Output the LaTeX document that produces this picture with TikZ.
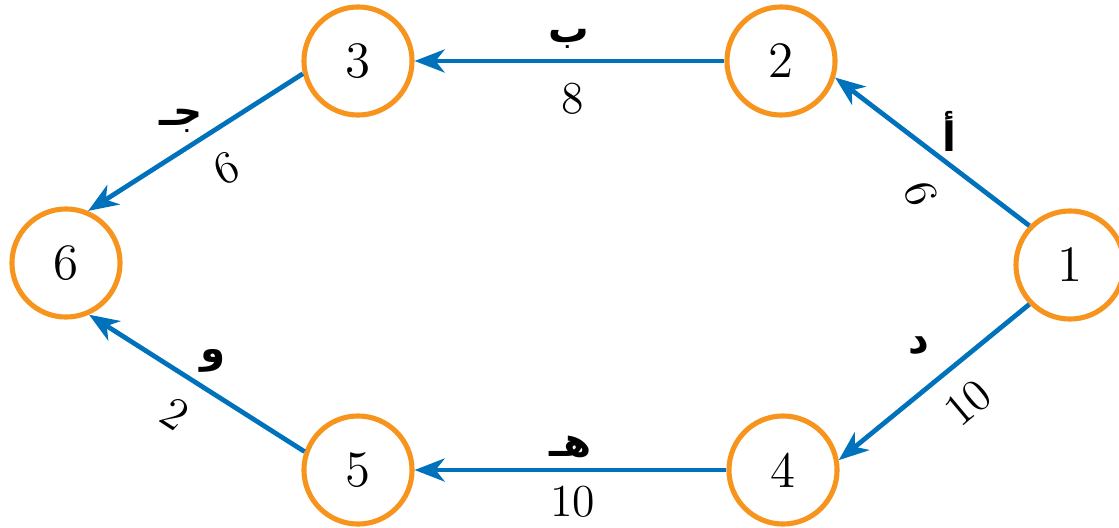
\documentclass[tikz,border=0pt]{standalone}
\usepackage{fontspec}
\usepackage{xcolor}
\usepackage{tikz}
\usetikzlibrary{arrows.meta}
\newfontfamily\arabicfont[Script=Arabic]{DejaVu Sans}
\TeXXeTstate=1
\definecolor{nodeorange}{HTML}{F7941E}
\definecolor{edgeblue}{HTML}{0072BC}

\begin{document}
\begin{tikzpicture}[x=0.01cm, y=0.01cm,
  stn/.style={circle, draw=nodeorange, line width=1.45pt, minimum size=1.08cm, inner sep=0pt, font=\fontsize{14.5}{16}\selectfont},
  arr/.style={draw=edgeblue, line width=1.35pt, -{Stealth[length=3mm, width=2.3mm, inset=0.9mm]}},
  num/.style={font=\fontsize{13}{15}\selectfont, inner sep=0pt},
  ltr/.style={font=\arabicfont\bfseries\fontsize{11.5}{13}\selectfont, inner sep=0pt}]
\useasboundingbox (0,0) rectangle (1119,527);
\node[stn] (n1) at (1070,262) {1};
\node[stn] (n2) at (781,466) {2};
\node[stn] (n3) at (358,466) {3};
\node[stn] (n4) at (783,57) {4};
\node[stn] (n5) at (358,57) {5};
\node[stn] (n6) at (66,264) {6};
\draw[arr] (n1.136) -- node[ltr, midway, xshift=1.7mm, yshift=2.05mm] {\beginR أ\endR}
  node[num, midway, xshift=-1.1mm, yshift=-4.15mm, rotate=-72] {6} (n2.-17);
\draw[arr] (n2) -- node[ltr, midway, xshift=-0.1mm, yshift=2.2mm] {\beginR ب\endR}
  node[num, midway, xshift=0.3mm, yshift=-3.8mm] {8} (n3);
\draw[arr] (n3.193) -- node[ltr, midway, xshift=-1.45mm, yshift=2.15mm] {\beginR جـ\endR}
  node[num, midway, xshift=3.05mm, yshift=-2.65mm, rotate=25] {6} (n6.67);
\draw[arr] (n1.224) -- node[ltr, midway, xshift=-1.5mm, yshift=3.65mm] {\beginR د\endR}
  node[num, midway, xshift=3.4mm, yshift=-2.05mm, rotate=40] {10} (n4.10);
\draw[arr] (n4) -- node[ltr, midway, xshift=0mm, yshift=2.3mm] {\beginR هـ\endR}
  node[num, midway, xshift=0.2mm, yshift=-3.2mm] {10} (n5);
\draw[arr] (n5.161) -- node[ltr, midway, xshift=1.65mm, yshift=2.2mm] {\beginR و\endR}
  node[num, midway, xshift=-2.15mm, yshift=-3.1mm, rotate=-33] {2} (n6.-66);
\end{tikzpicture}
\end{document}
